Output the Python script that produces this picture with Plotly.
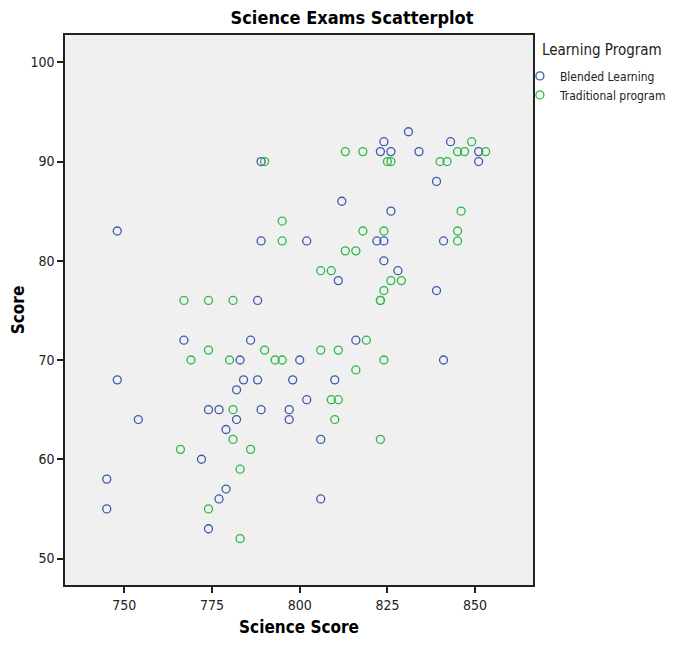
import plotly.graph_objects as go

# Blended Learning (science score, exam score)
blended_x = [789, 831, 824, 823, 826, 834, 843, 851, 851, 839, 812, 826,
             748, 789, 802, 822, 824, 841, 824, 828, 811, 839, 788,
             767, 786, 816, 783, 800, 841, 748, 784, 788, 798, 810, 782,
             802, 774, 777, 789, 797, 754, 782, 797, 779, 806, 772, 745,
             779, 777, 806, 745, 774]
blended_y = [90, 93, 92, 91, 91, 91, 92, 91, 90, 88, 86, 85,
             83, 82, 82, 82, 82, 82, 80, 79, 78, 77, 76,
             72, 72, 72, 70, 70, 70, 68, 68, 68, 68, 68, 67,
             66, 65, 65, 65, 65, 64, 64, 64, 63, 62, 60, 58,
             57, 56, 56, 55, 53]

traditional_x = [790, 813, 818, 849, 845, 847, 853, 825, 826, 840, 842,
                 846, 795, 818, 824, 845, 795, 845, 813, 816, 806, 809,
                 826, 829, 824, 767, 774, 781, 823, 823, 819, 774, 790,
                 806, 811, 769, 780, 793, 795, 824, 816, 809, 811, 781,
                 810, 781, 766, 786, 783, 823, 774, 783]
traditional_y = [90, 91, 91, 92, 91, 91, 91, 90, 90, 90, 90,
                 85, 84, 83, 83, 83, 82, 82, 81, 81, 79, 79,
                 78, 78, 77, 76, 76, 76, 76, 76, 72, 71, 71,
                 71, 71, 70, 70, 70, 70, 70, 69, 66, 66, 65,
                 64, 62, 61, 61, 59, 62, 55, 52]

series_names = ["Blended Learning", "Traditional program"]
legend_title = "Learning Program"
x_ticks = [750, 775, 800, 825, 850]
y_ticks = [50, 60, 70, 80, 90, 100]

FONT = "Liberation Sans Narrow, DejaVu Sans Condensed, Arial Narrow, sans-serif"
BLUE = "#3E58AC"
GREEN = "#2EB848"


def f(size, color="#222"):
    return dict(family=FONT, size=size, color=color)


fig = go.Figure()
for name, xs, ys, col in [(series_names[0], blended_x, blended_y, BLUE),
                          (series_names[1], traditional_x, traditional_y, GREEN)]:
    fig.add_trace(go.Scatter(
        x=xs, y=ys, mode="markers", name=name,
        marker=dict(symbol="circle-open", size=8, color=col, line=dict(width=1.3, color=col)),
    ))

fig.update_layout(
    width=658, height=629,
    margin=dict(l=57, r=133, t=27, b=52, autoexpand=False),
    paper_bgcolor="white",
    plot_bgcolor="#F0F0F0",
    font=f(14),
    title=dict(text="<b>Science Exams Scatterplot</b>", x=0.5228, xanchor="center",
               y=0.984, yanchor="middle", font=f(18, "black")),
    showlegend=True,
    legend=dict(
        x=0.972, xanchor="left", y=0.952, yanchor="top",
        bgcolor="rgba(0,0,0,0)", font=f(12),
        itemwidth=30, tracegroupgap=0,
    ),
    annotations=[dict(
        text=legend_title, xref="paper", yref="paper", x=1.015, y=0.973,
        xanchor="left", yanchor="middle", showarrow=False, font=f(15),
    )],
)
fig.update_xaxes(
    range=[733.1, 866.5], tickvals=x_ticks, ticks="outside", ticklen=6, tickwidth=1.5,
    tickcolor="#222", showline=True, linecolor="#222", linewidth=1.5, mirror=True,
    showgrid=False, zeroline=False, tickfont=f(14),
    title=dict(text="<b>Science Score</b>", font=f(17, "black"), standoff=20),
)
fig.update_yaxes(
    range=[47.33, 102.75], tickvals=y_ticks, ticks="outside", ticklen=6, tickwidth=1.5,
    tickcolor="#222", showline=True, linecolor="#222", linewidth=1.5, mirror=True,
    showgrid=False, zeroline=False, tickfont=f(14),
    title=dict(text="<b>Score</b>", font=f(17, "black"), standoff=6),
)

fig.write_html("out.html")
